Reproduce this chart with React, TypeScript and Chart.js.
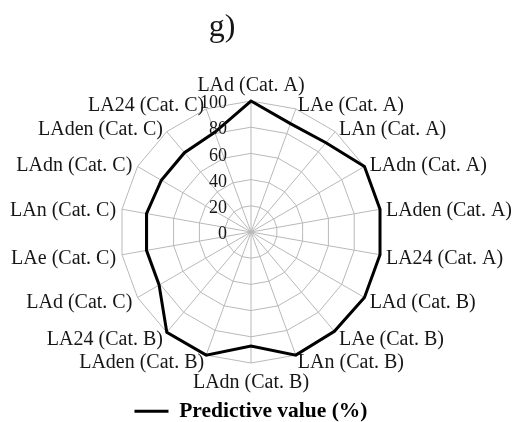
import { useEffect, useRef } from 'react';
import { Chart, registerables } from 'chart.js';

Chart.register(...registerables);

// Categories clockwise from the top spoke
const categories = [
  'LAd (Cat. A)', 'LAe (Cat. A)', 'LAn (Cat. A)', 'LAdn (Cat. A)', 'LAden (Cat. A)', 'LA24 (Cat. A)',
  'LAd (Cat. B)', 'LAe (Cat. B)', 'LAn (Cat. B)', 'LAdn (Cat. B)', 'LAden (Cat. B)', 'LA24 (Cat. B)',
  'LAd (Cat. C)', 'LAe (Cat. C)', 'LAn (Cat. C)', 'LAdn (Cat. C)', 'LAden (Cat. C)', 'LA24 (Cat. C)',
];
const predictiveValue = [100, 88, 89, 100, 100, 100, 100, 99, 100, 87, 100, 100, 81, 81, 81, 79, 79, 81];
const tickValues = [0, 20, 40, 60, 80, 100];
const panelTitle = 'g)';
const seriesName = 'Predictive value (%)';

const SERIF = '"Liberation Serif", "Times New Roman", serif';
const TEXT = '#161616';
const GRID = '#b9b9b9';
const TEXT_DROP = 2.5; // nudges middle-baseline text down to sit on its reference line

// Tick numbers, spoke labels and panel letter drawn around the radial scale
const radarText = {
  id: 'radarText',
  afterDraw(chart: any) {
    const scale = chart.scales.r;
    const ctx: CanvasRenderingContext2D = chart.ctx;
    ctx.save();
    ctx.fillStyle = TEXT;

    ctx.font = `18px ${SERIF}`;
    ctx.textAlign = 'right';
    ctx.textBaseline = 'middle';
    tickValues.forEach((v) => {
      const d = scale.getDistanceFromCenterForValue(v);
      ctx.fillText(String(v), scale.xCenter - 24, scale.yCenter - d + TEXT_DROP);
    });

    ctx.font = `20px ${SERIF}`;
    const outer = scale.drawingArea;
    categories.forEach((label, i) => {
      const a = scale.getIndexAngle(i);
      const s = Math.sin(a);
      let dist = outer + 6;
      let align: CanvasTextAlign;
      if (Math.abs(s) < 0.05) {
        align = 'center';
        dist = outer + 17.5;
      } else {
        align = s > 0 ? 'left' : 'right';
      }
      const p = scale.getPointPosition(i, dist);
      ctx.textAlign = align;
      ctx.fillText(label, p.x, p.y + TEXT_DROP);
    });

    ctx.font = `32px ${SERIF}`;
    ctx.textAlign = 'center';
    ctx.textBaseline = 'alphabetic';
    ctx.fillText(panelTitle, scale.xCenter - 29, 36);
    ctx.restore();
  },
};

export default function App() {
  const ref = useRef<HTMLCanvasElement>(null);

  useEffect(() => {
    if (!ref.current) return;
    const chart = new Chart(ref.current, {
      type: 'radar',
      data: {
        labels: categories,
        datasets: [
          {
            label: seriesName,
            data: predictiveValue,
            borderColor: '#000',
            backgroundColor: 'rgba(0,0,0,0)',
            borderWidth: 3,
            borderJoinStyle: 'miter',
            fill: false,
            pointRadius: 0,
            pointHoverRadius: 0,
            tension: 0,
          },
        ],
      },
      plugins: [radarText],
      options: {
        responsive: false,
        maintainAspectRatio: false,
        devicePixelRatio: 1,
        animation: false,
        layout: { padding: { left: 119, right: 129, top: 101, bottom: 0 } },
        scales: {
          r: {
            min: 0,
            max: 100,
            ticks: { stepSize: 20, display: false },
            grid: { color: GRID, lineWidth: 1, circular: false },
            angleLines: { color: GRID, lineWidth: 1 },
            pointLabels: { display: false },
          },
        },
        plugins: {
          title: { display: false },
          tooltip: { enabled: false },
          legend: {
            display: true,
            position: 'bottom',
            align: 'center',
            labels: {
              boxWidth: 34,
              boxHeight: 3,
              padding: 36,
              color: '#000',
              font: { family: SERIF, size: 21.5, weight: 'bold' },
              generateLabels: () => [
                {
                  text: seriesName,
                  fillStyle: '#000',
                  strokeStyle: '#000',
                  lineWidth: 0,
                  hidden: false,
                  datasetIndex: 0,
                },
              ],
            },
          },
        },
      },
    });
    return () => chart.destroy();
  }, []);

  return (
    <div
      style={{
        position: 'fixed',
        left: 0,
        top: 0,
        width: 512,
        height: 422,
        overflow: 'hidden',
        background: '#fff',
      }}
    >
      <canvas ref={ref} width={512} height={432} style={{ display: 'block', width: 512, height: 432 }} />
    </div>
  );
}
